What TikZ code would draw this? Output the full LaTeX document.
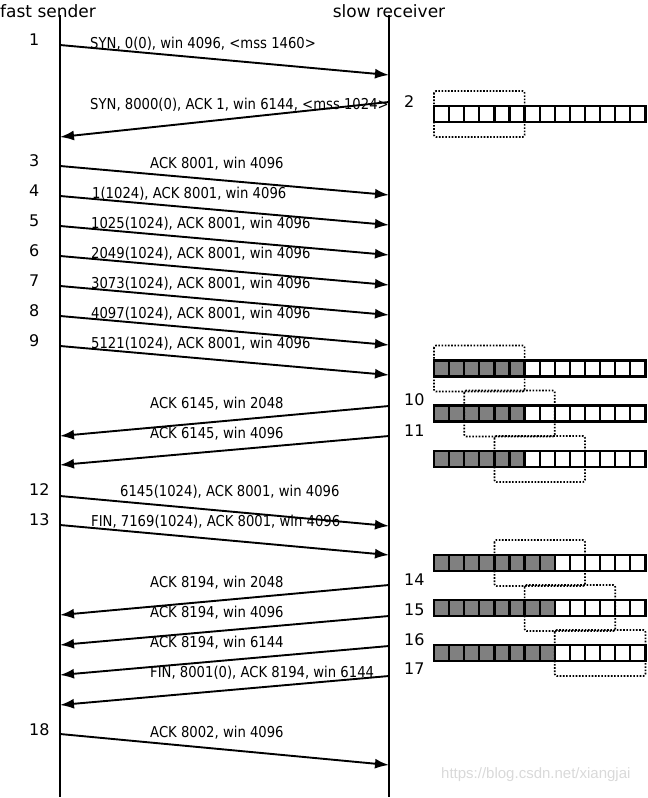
\documentclass[tikz,border=0pt]{standalone}
\usepackage{fontspec}
\setmainfont{DejaVu Sans}
\newfontfamily\labfont[FakeStretch=0.88]{DejaVu Sans}
\newfontfamily\wmfont{Liberation Sans}
\usetikzlibrary{arrows.meta}
\definecolor{shade}{gray}{0.5}
\tikzset{
  life/.style={line width=2.2pt},
  msg/.style={line width=1.9pt, -{Latex[length=14pt,width=10pt]}},
  lab/.style={anchor=base west, inner sep=0pt, font=\labfont\fontsize{15}{18}\selectfont},
  num/.style={anchor=west, inner sep=0pt, font=\fontsize{16}{19}\selectfont},
  ttl/.style={inner sep=0pt, font=\fontsize{17}{20}\selectfont},
  cell/.style={draw, line width=2.3pt},
  win/.style={draw, line width=1.7pt, dash pattern=on 1.6pt off 1.6pt, rounded corners=2pt},
  wmark/.style={anchor=west, inner sep=0pt, text=gray!30, font=\wmfont\fontsize{15}{18}\selectfont},
}
\newcommand\bufrow[3]{%
  \foreach \i in {0,...,13}{%
    \pgfmathtruncatemacro\bufsh{\i<#2}%
    \ifnum\bufsh=1 \def\bufcol{shade}\else\def\bufcol{white}\fi
    \draw[cell, fill=\bufcol] (434+\i*15.1, #1-8) rectangle ++(15.1,16);
  }
  \draw[win] (434+#3*15.1, #1-23) rectangle ++(90.6,46);
}
\begin{document}
\begin{tikzpicture}[x=1pt,y=-1pt]
\useasboundingbox (0,0) rectangle (648,798);
% titles and lifelines
\node[ttl, anchor=base west] (tS) at (0,17) {fast sender};
\node[ttl, anchor=base] (tR) at (389,17) {slow receiver};
\coordinate (sTop) at (60,15);  \coordinate (sBot) at (60,797);
\coordinate (rTop) at (389,15); \coordinate (rBot) at (389,797);
\draw[life] (sTop) -- (sBot);
\draw[life] (rTop) -- (rBot);
% end points
\foreach \n/\sy/\ry in {1/45/75, 2/137/102, 3/166/195, 4/196/225, 5/226/255, 6/256/285,
  7/286/315, 8/316/345, 9/346/375, 10/436/406, 11/465/436, 12/496/526, 13/525/555,
  14/615/585, 15/645/616, 16/675/646, 17/705/676, 18/734/765}{
  \coordinate (s\n) at (60,\sy);
  \coordinate (r\n) at (389,\ry);
}
% sender to receiver
\foreach \n in {1,3,4,5,6,7,8,9,12,13,18}{ \draw[msg] (s\n) -- (r\n); }
% receiver to sender
\foreach \n in {2,10,11,14,15,16,17}{ \draw[msg] (r\n) -- (s\n); }
% labels
\node[lab] (l1) at (90,48) {SYN, 0(0), win 4096, <mss 1460>};
\node[lab] (l2) at (90,109) {SYN, 8000(0), ACK 1, win 6144, <mss 1024>};
\node[lab] (l3) at (150,168) {ACK 8001, win 4096};
\node[lab] (l4) at (92,198) {1(1024), ACK 8001, win 4096};
\node[lab] (l5) at (91,228) {1025(1024), ACK 8001, win 4096};
\node[lab] (l6) at (91,258) {2049(1024), ACK 8001, win 4096};
\node[lab] (l7) at (91,288) {3073(1024), ACK 8001, win 4096};
\node[lab] (l8) at (91,318) {4097(1024), ACK 8001, win 4096};
\node[lab] (l9) at (91,348) {5121(1024), ACK 8001, win 4096};
\node[lab] (l10) at (150,408) {ACK 6145, win 2048};
\node[lab] (l11) at (150,438) {ACK 6145, win 4096};
\node[lab] (l12) at (120,496) {6145(1024), ACK 8001, win 4096};
\node[lab] (l13) at (91,526) {FIN, 7169(1024), ACK 8001, win 4096};
\node[lab] (l14) at (150,587) {ACK 8194, win 2048};
\node[lab] (l15) at (150,617) {ACK 8194, win 4096};
\node[lab] (l16) at (150,647) {ACK 8194, win 6144};
\node[lab] (l17) at (150,677) {FIN, 8001(0), ACK 8194, win 6144};
\node[lab] (l18) at (150,737) {ACK 8002, win 4096};
% step numbers
\foreach \n/\y in {1/40, 3/161, 4/191, 5/221, 6/251, 7/281, 8/311, 9/341, 12/490, 13/520, 18/730}{
  \node[num] (n\n) at (29,\y) {\n};
}
\foreach \n/\y in {2/102, 10/400, 11/431, 14/580, 15/610, 16/640, 17/669}{
  \node[num] (n\n) at (404,\y) {\n};
}
% receive buffers
\bufrow{114}{0}{0}
\bufrow{368.5}{6}{0}
\bufrow{413.5}{6}{2}
\bufrow{459}{6}{4}
\bufrow{563}{8}{4}
\bufrow{608}{8}{6}
\bufrow{653}{8}{8}
% watermark
\node[wmark] (wm) at (441,775) {https://blog.csdn.net/xiangjai};
\end{tikzpicture}
\end{document}
